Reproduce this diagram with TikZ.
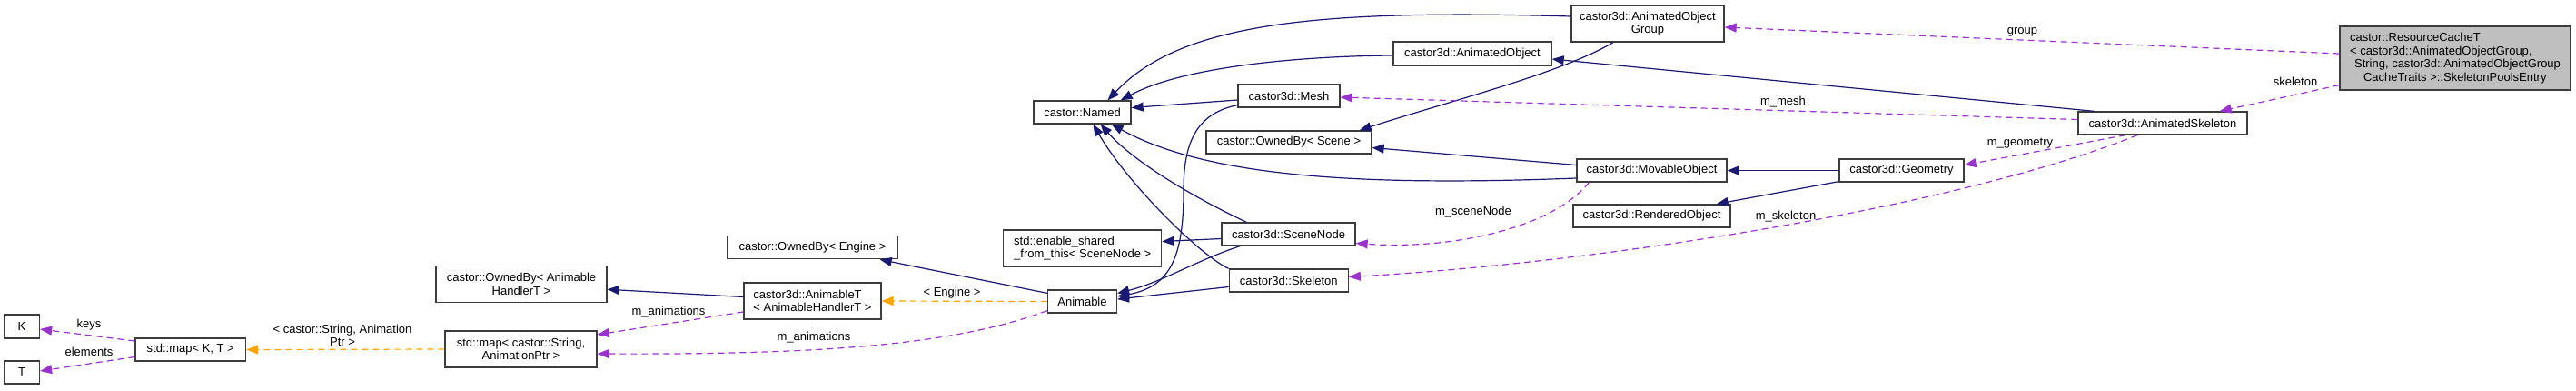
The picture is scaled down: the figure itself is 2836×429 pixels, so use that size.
\documentclass[tikz,border=0pt]{standalone}
\usepackage{fontspec}
\setmainfont{Liberation Sans}
\usetikzlibrary{arrows.meta,calc}
\definecolor{inh}{RGB}{25,25,112}
\definecolor{usec}{RGB}{154,50,205}
\definecolor{tplc}{RGB}{255,165,0}
\definecolor{boxc}{RGB}{60,60,60}
\definecolor{hl}{RGB}{191,191,191}
\begin{document}
\begin{tikzpicture}[x=1pt,y=-1pt,
  box/.style={draw=boxc,line width=1.3pt,fill=white,inner sep=0pt,font=\fontsize{13}{14.5}\selectfont},
  inhe/.style={draw=inh,line width=1.2pt,-{Triangle[length=13pt,width=10pt]}},
  usee/.style={draw=usec,line width=1.2pt,dash pattern=on 7pt off 5pt,-{Triangle[length=13pt,width=10pt]}},
  tple/.style={draw=tplc,line width=1.2pt,dash pattern=on 7pt off 5pt,-{Triangle[length=13pt,width=10pt]}},
  lbl/.style={font=\fontsize{13}{14.5}\selectfont,inner sep=0pt}]
\useasboundingbox[fill=white] (0,0) rectangle (2836,429);

% nodes
\node[box,fill=hl,minimum width=254pt,minimum height=70pt,align=left] (rc) at (2703,64)
  {castor::ResourceCacheT\\< castor3d::AnimatedObjectGroup,\\\hspace*{5pt}String, castor3d::AnimatedObjectGroup\\\hspace*{15pt}CacheTraits >::SkeletonPoolsEntry};
\node[box,minimum width=168pt,minimum height=40pt,align=center] (aog) at (1814,26) {castor3d::AnimatedObject\\Group};
\node[box,minimum width=174pt,minimum height=26pt] (ao) at (1621,59) {castor3d::AnimatedObject};
\node[box,minimum width=112pt,minimum height=25pt] (mesh) at (1419,105.5) {castor3d::Mesh};
\node[box,minimum width=107pt,minimum height=25pt] (named) at (1191.5,123.5) {castor::Named};
\node[box,minimum width=182pt,minimum height=25pt] (obs) at (1419,156.5) {castor::OwnedBy< Scene >};
\node[box,minimum width=165pt,minimum height=25pt] (mov) at (1818.5,187.5) {castor3d::MovableObject};
\node[box,minimum width=173pt,minimum height=25pt] (ren) at (1818.5,237.5) {castor3d::RenderedObject};
\node[box,minimum width=137pt,minimum height=25pt] (geo) at (2093.5,187.5) {castor3d::Geometry};
\node[box,minimum width=186pt,minimum height=25pt] (ask) at (2381,135.5) {castor3d::AnimatedSkeleton};
\node[box,minimum width=147pt,minimum height=25pt] (sn) at (1418.5,257.5) {castor3d::SceneNode};
\node[box,minimum width=131pt,minimum height=25pt] (skel) at (1418.75,308.5) {castor3d::Skeleton};
\node[box,minimum width=174pt,minimum height=40pt,align=left] (esft) at (1191.75,273) {std::enable\_shared\\\_from\_this< SceneNode >};
\node[box,minimum width=76pt,minimum height=25pt] (anim) at (1191.5,331.5) {Animable};
\node[box,minimum width=187pt,minimum height=25pt] (obe) at (894.5,272.25) {castor::OwnedBy< Engine >};
\node[box,minimum width=151pt,minimum height=40pt,align=left] (at) at (894.5,331) {castor3d::AnimableT\\< AnimableHandlerT >};
\node[box,minimum width=188pt,minimum height=40pt,align=center] (obah) at (574,312.25) {castor::OwnedBy< Animable\\HandlerT >};
\node[box,minimum width=167pt,minimum height=40pt,align=center] (smap) at (573.5,384) {std::map< castor::String,\\AnimationPtr >};
\node[box,minimum width=121.5pt,minimum height=25pt] (mapkt) at (209.75,384.5) {std::map< K, T >};
\node[box,minimum width=39pt,minimum height=26pt] (nK) at (24,359) {K};
\node[box,minimum width=39pt,minimum height=25pt] (nT) at (24,409.5) {T};

% inheritance
\draw[inhe] ($(aog.west)+(0,-8)$) .. controls (1450,10) and (1300,25) .. ($(named.north)+(28,0)$);
\draw[inhe] ($(ao.west)+(0,2)$) .. controls (1420,62) and (1300,75) .. ($(named.north east)+(-12,0)$);
\draw[inhe] ($(mesh.west)+(0,4.5)$) -- ($(named.east)+(0,-5)$);
\draw[inhe] ($(mesh.south west)+(0,-3)$) .. controls (1315,125) and (1303,160) .. (1303,210) .. controls (1303,280) and (1290,315) .. ($(anim.east)+(0,-5.5)$);
\draw[inhe] ($(aog.south)+(-38,0)$) .. controls (1720,80) and (1600,110) .. ($(obs.north east)+(-14,0)$);
\draw[inhe] ($(ask.north west)+(18,0)$) -- ($(ao.east)+(0,6)$);
\draw[inhe] ($(mov.west)+(0,-6)$) -- ($(obs.east)+(0,6)$);
\draw[inhe] ($(mov.west)+(0,8.5)$) .. controls (1500,205) and (1330,195) .. ($(named.south)+(32,0)$);
\draw[inhe] (geo.west) -- (mov.east);
\draw[inhe] ($(geo.south west)+(0,-1)$) -- ($(ren.north east)+(-16,0)$);
\draw[inhe] ($(sn.north west)+(28,0)$) .. controls (1320,220) and (1250,180) .. ($(named.south)+(20,0)$);
\draw[inhe] ($(sn.west)+(0,5)$) -- ($(esft.east)+(0,-7.5)$);
\draw[inhe] ($(sn.south west)+(21,0)$) .. controls (1320,285) and (1280,310) .. ($(anim.east)+(0,-9)$);
\draw[inhe] (skel.north west) .. controls (1320,280) and (1240,200) .. ($(named.south)+(12,0)$);
\draw[inhe] ($(skel.west)+(0,7)$) -- ($(anim.east)+(0,-2.5)$);
\draw[inhe] ($(anim.north west)+(0,4)$) -- ($(obe.south east)+(-20,0)$);
\draw[inhe] ($(at.west)+(0,-4.5)$) -- ($(obah.east)+(0,6)$);

% usage
\draw[usee] ($(rc.west)+(0,-5)$) -- ($(aog.east)+(0,4)$);
\draw[usee] ($(rc.south west)+(0,-6)$) -- ($(ask.north east)+(-31,0)$);
\draw[usee] ($(ask.west)+(0,-4)$) -- ($(mesh.east)+(0,1.5)$);
\draw[usee] ($(ask.south)+(-41,0)$) -- ($(geo.east)+(0,-6)$);
\draw[usee] ($(ask.south)+(-28,0)$) .. controls (2150,230) and (1750,290) .. ($(skel.east)+(0,-4)$);
\draw[usee] ($(mov.south west)+(14,0)$) .. controls (1710,250) and (1600,275) .. ($(sn.east)+(0,10)$);
\draw[usee] ($(at.west)+(0,12)$) -- ($(smap.east)+(0,-16)$);
\draw[usee] ($(anim.south west)+(0,-3)$) .. controls (1050,380) and (900,390) .. ($(smap.east)+(0,5)$);
\draw[usee] ($(mapkt.west)+(0,-9.5)$) -- ($(nK.east)+(0,3)$);
\draw[usee] ($(mapkt.west)+(0,8)$) -- ($(nT.east)+(0,-1.5)$);

% template instances
\draw[tple] (smap.west) -- (mapkt.east);
\draw[tple] (anim.west) -- (at.east);

% labels
\node[lbl] (lgroup) at (2226.5,35) {group};
\node[lbl] (lskel) at (2527,90) {skeleton};
\node[lbl] (lmesh) at (1963,112) {m\_mesh};
\node[lbl] (lgeo) at (2224,158) {m\_geometry};
\node[lbl] (lmskel) at (1966,238) {m\_skeleton};
\node[lbl] (lsn) at (1622,233) {m\_sceneNode};
\node[lbl] (lan1) at (736,343) {m\_animations};
\node[lbl] (lan2) at (896,371) {m\_animations};
\node[lbl] (lkeys) at (98,357) {keys};
\node[lbl] (lelem) at (98,387) {elements};
\node[lbl,align=center] (lcs) at (377,369) {< castor::String, Animation\\Ptr >};
\node[lbl] (leng) at (1048,322) {< Engine >};
\end{tikzpicture}
\end{document}
